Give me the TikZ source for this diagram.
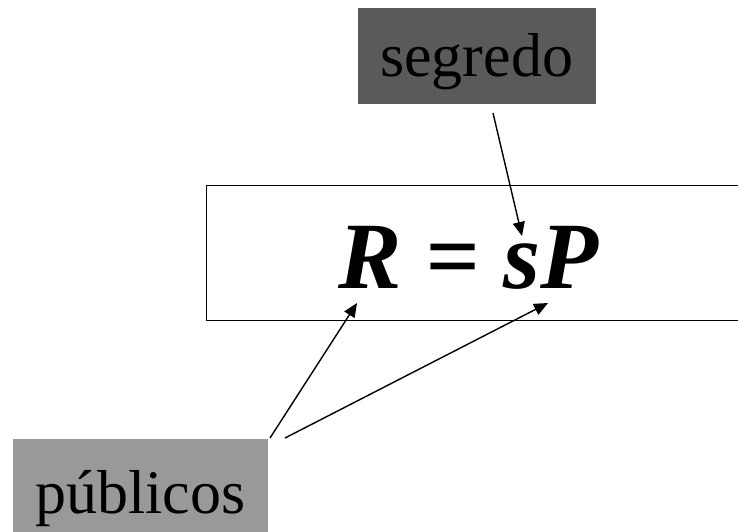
\documentclass[tikz,border=0pt]{standalone}
\usepackage{fontspec}
\setmainfont{Liberation Serif}
\usetikzlibrary{arrows.meta}
\definecolor{darkbox}{HTML}{5A5A5A}
\definecolor{lightbox}{HTML}{999999}
\begin{document}
\begin{tikzpicture}[x=1pt,y=-1pt,
  boxstyle/.style={rectangle,inner sep=0pt,draw=none},
  lbl/.style={inner sep=0pt,anchor=base west,font=\fontsize{62}{62}\selectfont},
  arr/.style={line width=1.4pt,-{Triangle[length=14pt,width=12pt]}}]
\useasboundingbox (0,0) rectangle (738,531);
\clip (0,0) rectangle (738,531);
% main box
\draw[line width=1pt] (206,185) rectangle (760,320);
\node[inner sep=0pt,anchor=base west,font=\fontsize{95}{95}\selectfont\bfseries\itshape] (eq) at (338,288) {R = sP};
% segredo
\node[boxstyle,fill=darkbox,minimum width=238pt,minimum height=96pt] (seg) at (477,56) {};
\node[lbl] (segt) at (380,76) {segredo};
% publicos
\node[boxstyle,fill=lightbox,minimum width=255pt,minimum height=100pt] (pub) at (140.5,489) {};
\node[lbl] (pubt) at (35,513) {públicos};
% arrow anchors
\coordinate (s1) at (493,113);
\coordinate (t1) at (522,236);
\coordinate (p1) at (270,438);
\coordinate (t2) at (357,303);
\coordinate (p2) at (285,438);
\coordinate (t3) at (548,303);
\draw[arr] (s1) -- (t1);
\draw[arr] (p1) -- (t2);
\draw[arr] (p2) -- (t3);
\end{tikzpicture}
\end{document}
